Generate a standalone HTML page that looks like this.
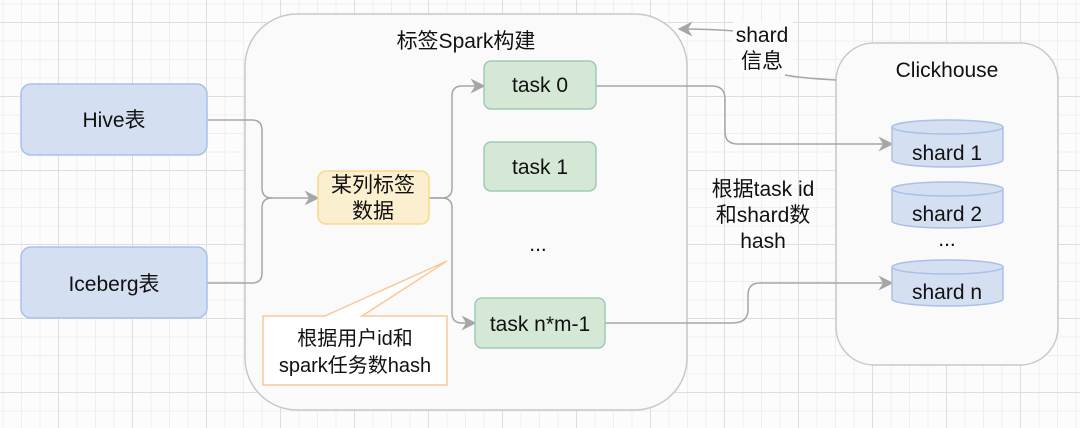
<!DOCTYPE html>
<html><head><meta charset="utf-8"><style>
html,body{margin:0;padding:0;background:#fff}
svg{display:block}
text{font-family:"Liberation Sans","Noto Sans CJK SC",sans-serif;fill:#111}
</style></head><body>
<svg width="1080" height="428" viewBox="0 0 1080 428" xmlns="http://www.w3.org/2000/svg">
<defs>
<pattern id="minor" width="18.5" height="18.5" patternUnits="userSpaceOnUse" x="2.5" y="22">
<path d="M0 0.5H18.5M0.5 0V18.5" stroke="#efefef" stroke-width="1" fill="none"/>
</pattern>
<pattern id="major" width="74" height="74" patternUnits="userSpaceOnUse" x="58" y="22">
<path d="M0 0.5H74M0.5 0V74" stroke="#dedede" stroke-width="1" fill="none"/>
</pattern>
<marker id="arb" viewBox="0 0 10 10" refX="9" refY="5" markerWidth="15" markerHeight="15" orient="auto" markerUnits="userSpaceOnUse">
<path d="M0 0L10 5L0 10L3 5Z" fill="#a6a6a6"/>
</marker>
</defs>
<rect width="1080" height="428" fill="#fcfcfc"/>
<rect width="1080" height="428" fill="url(#minor)"/>
<rect width="1080" height="428" fill="url(#major)"/>

<rect x="245" y="14" width="442" height="396" rx="52" fill="#fafafa" stroke="#c8c8c8" stroke-width="1.5"/>
<text x="466" y="48" font-size="21" text-anchor="middle">标签Spark构建</text>
<rect x="836" y="43" width="222" height="322" rx="38" fill="#fafafa" stroke="#c8c8c8" stroke-width="1.5"/>
<text x="947" y="77" font-size="21" text-anchor="middle">Clickhouse</text>

<g fill="none" stroke="#a6a6a6" stroke-width="1.5">
<path d="M207 120H252Q262 120 262 130V188Q262 198 272 198H318" marker-end="url(#arb)"/>
<path d="M207 283H252Q262 283 262 273V208Q262 198 272 198"/>
<path d="M429 198H442Q452 198 452 188V96Q452 86 462 86H484" marker-end="url(#arb)"/>
<path d="M429 198H442Q452 198 452 208V313Q452 323 462 323H475" marker-end="url(#arb)"/>
<path d="M596 86H712Q725 86 725 99V132Q725 144 738 144H892" marker-end="url(#arb)"/>
<path d="M605 323H732Q748 323 748 310V295Q748 283 760 283H892" marker-end="url(#arb)"/>
<path d="M836 80Q800 78 785 75"/>
<path d="M735 31Q710 29 679 29" marker-end="url(#arb)"/>
</g>

<rect x="21" y="84" width="186" height="71" rx="10" fill="#d4e0f2" stroke="#a9c1e6" stroke-width="1.5"/>
<text x="114" y="127" font-size="21" text-anchor="middle">Hive表</text>
<rect x="21" y="247" width="186" height="71" rx="10" fill="#d4e0f2" stroke="#a9c1e6" stroke-width="1.5"/>
<text x="114" y="291" font-size="21" text-anchor="middle">Iceberg表</text>

<rect x="318" y="171" width="111" height="53" rx="8" fill="#fcefcf" stroke="#f7d98a" stroke-width="1.5"/>
<text x="373" y="192" font-size="21" text-anchor="middle">某列标签</text>
<text x="373" y="218" font-size="21" text-anchor="middle">数据</text>

<rect x="484" y="61" width="112" height="48" rx="7" fill="#d5e8d6" stroke="#9fcab8" stroke-width="1.5"/>
<text x="540" y="92" font-size="21" text-anchor="middle">task 0</text>
<rect x="484" y="142" width="112" height="49" rx="7" fill="#d5e8d6" stroke="#9fcab8" stroke-width="1.5"/>
<text x="540" y="174" font-size="21" text-anchor="middle">task 1</text>
<text x="538" y="251" font-size="21" text-anchor="middle">...</text>
<rect x="475" y="298" width="130" height="50" rx="7" fill="#d5e8d6" stroke="#9fcab8" stroke-width="1.5"/>
<text x="540" y="331" font-size="21" text-anchor="middle">task n*m-1</text>

<path d="M325 316L447 261L362 316H447V385H263V316Z" fill="#fff" stroke="#f8c89a" stroke-width="1.5"/>
<text x="355" y="345" font-size="20" text-anchor="middle">根据用户id和</text>
<text x="355" y="372" font-size="20" text-anchor="middle">spark任务数hash</text>

<rect x="733" y="22" width="60" height="50" fill="#fcfcfc"/>
<text x="762" y="42" font-size="21" text-anchor="middle">shard</text>
<text x="762" y="68" font-size="21" text-anchor="middle">信息</text>
<text x="763" y="196" font-size="21" text-anchor="middle">根据task id</text>
<text x="763" y="222" font-size="21" text-anchor="middle">和shard数</text>
<text x="763" y="248" font-size="21" text-anchor="middle">hash</text>

<g fill="#d4e0f2" stroke="#a9c1e6" stroke-width="1.5">
<path d="M892 127V160A55.5 7 0 0 0 1003 160V127"/>
<ellipse cx="947.5" cy="127" rx="55.5" ry="7"/>
<path d="M892 189V221A55.5 7 0 0 0 1003 221V189"/>
<ellipse cx="947.5" cy="189" rx="55.5" ry="7"/>
<path d="M892 267V299A55.5 7 0 0 0 1003 299V267"/>
<ellipse cx="947.5" cy="267" rx="55.5" ry="7"/>
</g>
<text x="947" y="160" font-size="21" text-anchor="middle">shard 1</text>
<text x="947" y="221" font-size="21" text-anchor="middle">shard 2</text>
<text x="947" y="246" font-size="21" text-anchor="middle">...</text>
<text x="947" y="299" font-size="21" text-anchor="middle">shard n</text>
</svg>
</body></html>
